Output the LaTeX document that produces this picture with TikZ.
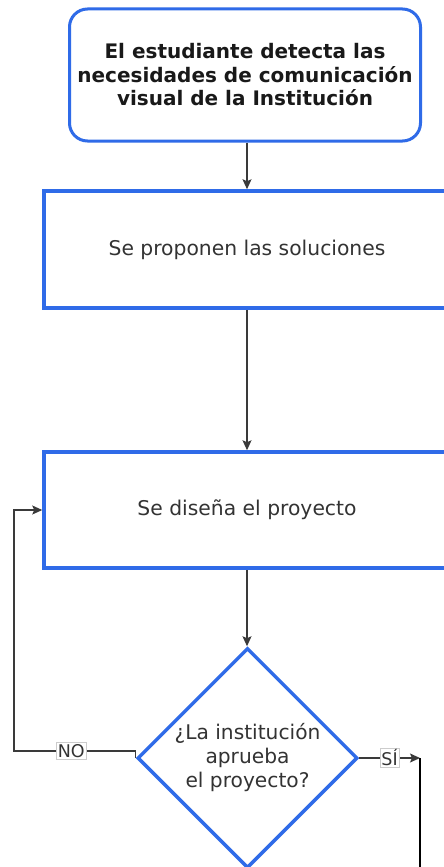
\documentclass[tikz,border=0pt]{standalone}
\usepackage{fontspec}
\setmainfont{DejaVu Sans}
\usetikzlibrary{shapes.geometric,arrows.meta}
\definecolor{bblue}{HTML}{2F6BE8}
\definecolor{txt}{HTML}{333333}
\definecolor{lnc}{HTML}{3A3A3A}
\begin{document}
\begin{tikzpicture}[x=1pt,y=-1pt,
  procbox/.style={draw=bblue, line width=3.5pt, minimum width=406pt, minimum height=116pt, inner sep=0pt, text=txt, font=\fontsize{20.3}{24}\selectfont},
  startbox/.style={draw=bblue, line width=3pt, rounded corners=18pt, minimum width=351pt, minimum height=132pt, align=center, text=black!90, font=\bfseries\fontsize{20}{23.5}\selectfont},
  decision/.style={diamond, aspect=1, draw=bblue, line width=3.5pt, minimum width=220pt, minimum height=220pt, inner sep=0pt, align=center, text=txt, font=\fontsize{20.2}{24}\selectfont},
  conn/.style={draw=lnc, line width=1.4pt, -{Stealth[length=10pt,width=9pt,inset=2pt]}},
  lbl/.style={draw=black!20, fill=white, line width=0.8pt, inner sep=1.5pt, text=txt, font=\fontsize{17.5}{20}\selectfont}]
\useasboundingbox (0,0) rectangle (444,867);
\fill[white] (0,0) rectangle (444,867);
\clip (0,0) rectangle (444,867);
\node[startbox] (s) at (245,75) {El estudiante detecta las\\necesidades de comunicación\\visual de la Institución};
\node[procbox, minimum height=117pt] (b2) at (247,249.5) {Se proponen las soluciones};
\node[procbox] (b3) at (247,510) {Se diseña el proyecto};
\node[decision] (d) at (247.5,758) {¿La institución\\aprueba\\el proyecto?};
\coordinate (nl) at (14,751);
\coordinate (sa) at (420,758);
\coordinate (sb) at (420,890);
\draw[conn] (s.south -| b2.north) -- (b2.north);
\draw[conn] (b2.south) -- (b3.north);
\draw[conn] (b3.south) -- (b3.south |- d.north);
\draw[conn] (d.west) -- (d.west |- nl) -- node[lbl, pos=0.53]{NO} (nl) |- (b3.west);
\draw[conn] (d.east) -- node[lbl, pos=0.5]{SÍ} (sa);
\draw[line width=2pt, black] (sa) -- (sb);
\end{tikzpicture}
\end{document}
